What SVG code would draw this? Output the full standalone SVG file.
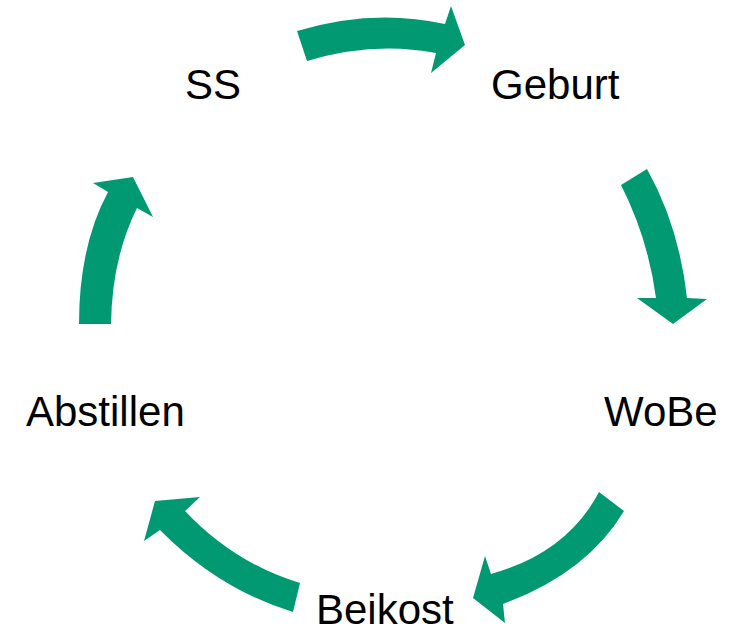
<svg xmlns="http://www.w3.org/2000/svg" width="729" height="632" viewBox="0 0 729 632">
<style>
.arrow{fill:#009971;stroke:none}
.lbl{font-family:"Liberation Sans",Arial,sans-serif;font-size:42px;fill:#000}
</style>
<rect width="729" height="632" fill="#fff"/>
<g id="connectors">
<path class="arrow" d="M297,31 Q373,8 445,24 L451,6 L465,45 L431,73 L436,53 Q373,41 307,61 Z"/>
<path class="arrow" d="M621,185 L647,169 Q679,226 687,298 L707,299 L673,324 L637,298 L656,298 Q648,238 621,185 Z"/>
<path class="arrow" d="M599,492 L624,511 Q587,573 503,604 L505,623 L473,598 L485,556 L491,574 Q567,553 599,492 Z"/>
<path class="arrow" d="M300,583 Q234,563 185,511 L200,497 L155,501 L144,541 L160,530 Q218,589 293,612 Z"/>
<path class="arrow" d="M79,324 L111,324 Q112,258 137,208 L153,217 L133,177 L93,183 L108,192 Q79,246 79,324 Z"/>
</g>
<g id="node-ss"><text class="lbl" x="185" y="99">SS</text></g>
<g id="node-geburt"><text class="lbl" x="491" y="99">Geburt</text></g>
<g id="node-wobe"><text class="lbl" x="604" y="426">WoBe</text></g>
<g id="node-beikost"><text class="lbl" x="316" y="624">Beikost</text></g>
<g id="node-abstillen"><text class="lbl" x="26" y="426">Abstillen</text></g>
</svg>
